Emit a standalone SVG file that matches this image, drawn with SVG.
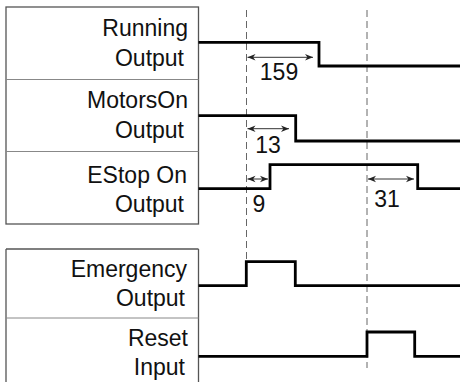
<svg xmlns="http://www.w3.org/2000/svg" width="460" height="391" viewBox="0 0 460 391">
<defs>
<marker id="ah" viewBox="0 0 10 10" refX="10" refY="5" markerWidth="10" markerHeight="8" markerUnits="userSpaceOnUse" orient="auto-start-reverse">
<path d="M0,1 L10,5 L0,9 L3,5 Z" fill="#222"/>
</marker>
</defs>
<style>
.lbl{font-family:"Liberation Sans",Arial,sans-serif;font-size:23px;fill:#111;text-anchor:end}
.num{font-family:"Liberation Sans",Arial,sans-serif;font-size:23px;fill:#111;text-anchor:middle}
.box{fill:none;stroke:#555;stroke-width:1.3}
.div{fill:none;stroke:#888;stroke-width:1}
.sig{fill:none;stroke:#000;stroke-width:2.8;stroke-linejoin:miter}
.dash{fill:none;stroke:#666;stroke-width:1;stroke-dasharray:7,4}
.dim{fill:none;stroke:#333;stroke-width:1;marker-start:url(#ah);marker-end:url(#ah)}
</style>
<rect class="box" x="6" y="7" width="192.5" height="217"/>
<path class="box" d="M6,249 H198.5 M6,249 V382 M198.5,249 V382"/>
<path class="div" d="M6,79.5 H198.5 M6,151.5 H198.5 M6,318 H198.5"/>
<g id="running">
<text class="lbl" x="188" y="36">Running</text>
<text class="lbl" x="184" y="66">Output</text>
</g>
<g id="motorson">
<text class="lbl" x="188" y="108">MotorsOn</text>
<text class="lbl" x="184" y="138">Output</text>
</g>
<g id="estop">
<text class="lbl" x="187" y="183">EStop On</text>
<text class="lbl" x="184" y="212">Output</text>
</g>
<g id="emergency">
<text class="lbl" x="187" y="277">Emergency</text>
<text class="lbl" x="185" y="306">Output</text>
</g>
<g id="reset">
<text class="lbl" x="188" y="346">Reset</text>
<text class="lbl" x="185" y="375">Input</text>
</g>
<g id="connectors">
<path class="dash" d="M246.5,10 V262"/>
<path class="dash" d="M367,10 V368"/>
<path class="sig" d="M198.5,42.3 H319 V66 H460"/>
<path class="sig" d="M198.5,115.7 H295.7 V141 H460"/>
<path class="sig" d="M198.5,188.7 H270 V164.7 H417.7 V188.7 H460"/>
<path class="sig" d="M198.5,285.7 H246.3 V261.7 H295.3 V285.7 H460"/>
<path class="sig" d="M198.5,356.3 H367 V332 H414.7 V356.3 H460"/>
<path class="dim" d="M247.5,57.3 H313"/>
<path class="dim" d="M247.5,128.7 H289"/>
<path class="dim" d="M247.5,179 H268"/>
<path class="dim" d="M368,179 H414"/>
<text class="num" x="279" y="80">159</text>
<text class="num" x="268" y="153">13</text>
<text class="num" x="259" y="212">9</text>
<text class="num" x="387" y="207">31</text>
</g>
</svg>
